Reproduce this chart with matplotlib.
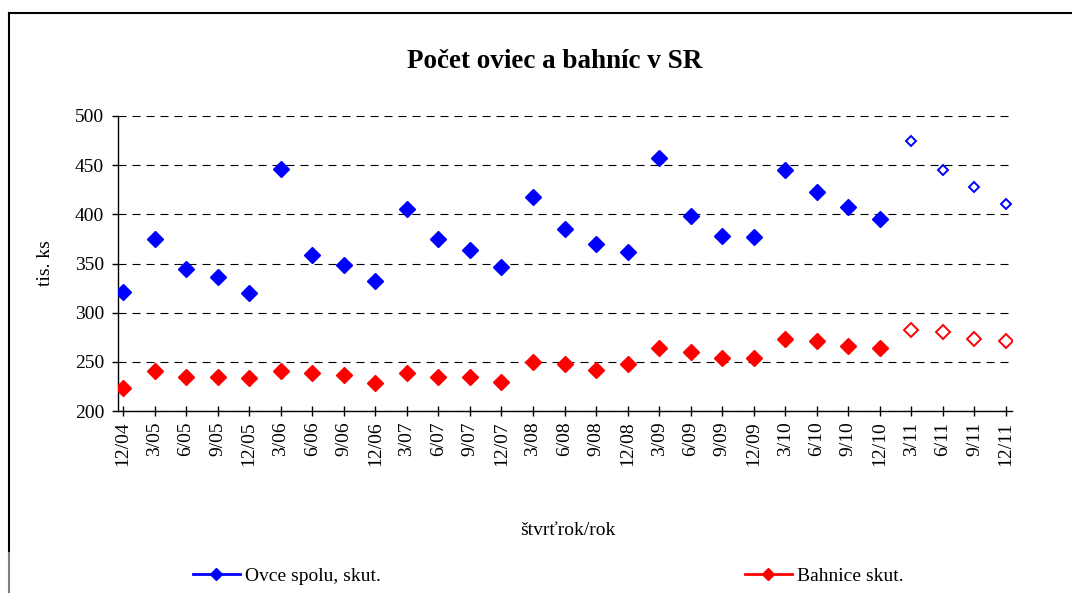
import matplotlib.pyplot as plt
from matplotlib.lines import Line2D
import numpy as np

plt.rcParams['font.family'] = ['Liberation Serif', 'DejaVu Serif']

# stvrtroky
labels = ['12/04', '3/05', '6/05', '9/05', '12/05', '3/06', '6/06', '9/06', '12/06',
          '3/07', '6/07', '9/07', '12/07', '3/08', '6/08', '9/08', '12/08',
          '3/09', '6/09', '9/09', '12/09', '3/10', '6/10', '9/10', '12/10',
          '3/11', '6/11', '9/11', '12/11']

# ovce spolu (tis. ks) - skutocnost
ovce = [321, 375, 344, 336, 320, 446, 359, 348, 332, 405, 375, 364, 346, 418,
        385, 370, 362, 457, 398, 378, 377, 445, 423, 407, 395]
# ovce spolu - odhad
ovce_odhad = [475, 445, 428, 411]

# bahnice (tis. ks) - skutocnost
bahnice = [223, 241, 235, 235, 234, 241, 239, 237, 228, 239, 235, 235, 230, 250,
           248, 242, 248, 264, 260, 254, 254, 273, 271, 266, 264]
# bahnice - odhad
bahnice_odhad = [282, 280, 273, 271]

x = np.arange(len(labels))
x_skut = x[:len(ovce)]
x_odh = x[len(ovce):]

fig = plt.figure(figsize=(10.72, 5.93), dpi=100)
ax = fig.add_axes([118 / 1072, 1 - 411 / 593, 894 / 1072, 295 / 593])

ax.plot(x_skut, ovce, ls='none', marker='D', ms=8, color='blue', zorder=3)
ax.plot(x_odh, ovce_odhad, ls='none', marker='D', ms=5.6, mfc='white',
        mec='blue', mew=1.4, zorder=3)
ax.plot(x_skut, bahnice, ls='none', marker='D', ms=8, color='red', zorder=3)
ax.plot(x_odh, bahnice_odhad, ls='none', marker='D', ms=7.2, mfc='white',
        mec='red', mew=1.4, zorder=3)

ax.set_xlim(-0.16, 28.19)
ax.set_ylim(200, 500)
ax.set_yticks(np.arange(200, 501, 50))
ax.set_xticks(x)
ax.set_xticklabels(labels, rotation=90, fontsize=14)
ax.tick_params(axis='y', labelsize=14, direction='out', length=4, width=1, pad=6)
ax.tick_params(axis='x', direction='inout', length=7, width=1, pad=4)

ax.yaxis.grid(True, color='black', lw=0.8, ls=(0, (7.2, 5.4)))
ax.set_axisbelow(True)
for s in ['top', 'right']:
    ax.spines[s].set_visible(False)
for s in ['left', 'bottom']:
    ax.spines[s].set_linewidth(1)

ax.set_ylabel('tis. ks', fontsize=14)
ax.yaxis.set_label_coords(-0.0716, 0.5)
ax.set_xlabel('štvrťrok/rok', fontsize=14)
ax.xaxis.set_label_coords(0.503, -0.375)

fig.text(555 / 1072, 1 - 62 / 593, 'Počet oviec a bahníc v SR', ha='center',
         va='center', fontsize=19.5, fontweight='bold')

# legenda
h1 = Line2D([], [], color='blue', lw=2, marker='D', ms=6)
h2 = Line2D([], [], color='red', lw=2, marker='D', ms=6)
fig.legend([h1], ['Ovce spolu, skut.'], loc='center left',
           bbox_to_anchor=(193 / 1072, 1 - 576 / 593), frameon=False, fontsize=14,
           handlelength=2.4, handletextpad=0.25, borderpad=0, borderaxespad=0)
fig.legend([h2], ['Bahnice skut.'], loc='center left',
           bbox_to_anchor=(745 / 1072, 1 - 576 / 593), frameon=False, fontsize=14,
           handlelength=2.4, handletextpad=0.25, borderpad=0, borderaxespad=0)

# ramcek grafu
fig.add_artist(Line2D([9 / 1072, 1.0], [1 - 13 / 593] * 2, transform=fig.transFigure,
                      color='black', lw=1.5))
fig.add_artist(Line2D([9 / 1072] * 2, [1 - 553 / 593, 1 - 13 / 593],
                      transform=fig.transFigure, color='black', lw=1.5))
fig.add_artist(Line2D([9 / 1072] * 2, [0, 1 - 553 / 593],
                      transform=fig.transFigure, color='gray', lw=1.5))

fig.savefig('out.png', dpi=100)
